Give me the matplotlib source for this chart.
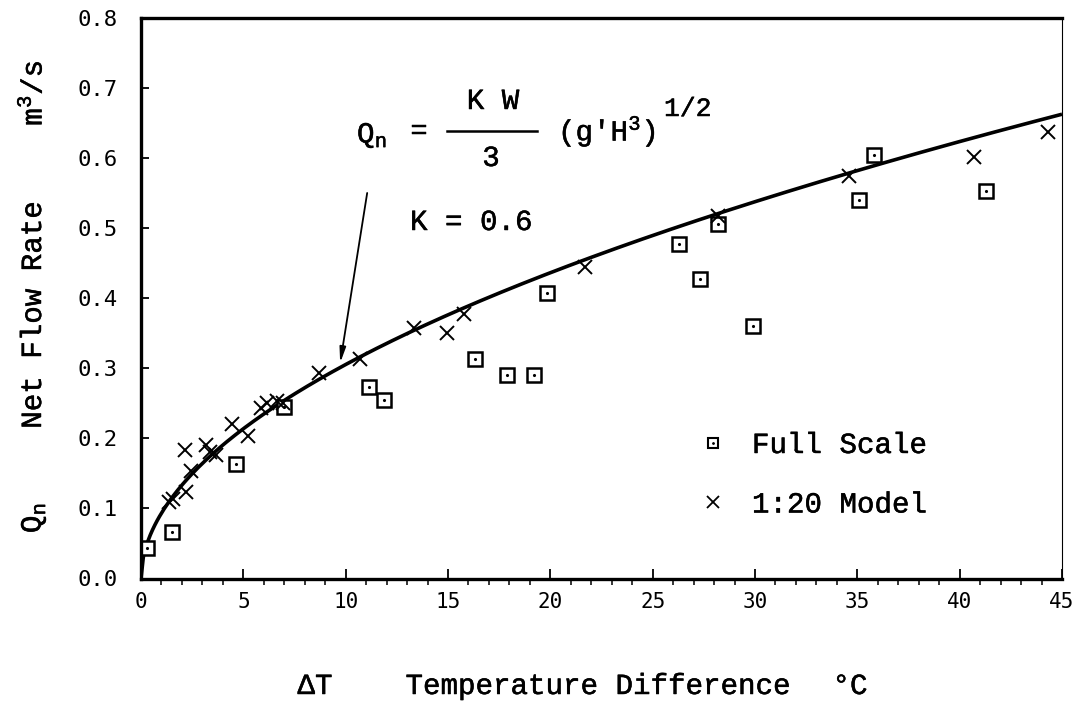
import numpy as np
import matplotlib
matplotlib.use("Agg")
import matplotlib.pyplot as plt
import matplotlib.patheffects as pe
from matplotlib.lines import Line2D

# Full scale measurements (Delta T in C, Qn in m3/s)
full_dt = [0.3, 1.5, 4.65, 7.0, 11.15, 11.85, 16.3, 17.9, 19.2, 19.85,
           26.3, 27.3, 28.2, 29.9, 35.1, 35.8, 41.3]
full_q = [0.043, 0.066, 0.163, 0.245, 0.274, 0.255, 0.313, 0.290, 0.290, 0.407,
          0.477, 0.427, 0.506, 0.360, 0.540, 0.604, 0.553]

# 1:20 model measurements
model_dt = [1.37, 1.56, 2.15, 2.2, 2.45, 3.18, 3.37, 3.67, 4.45, 5.23,
            5.87, 6.16, 6.65, 6.94, 8.7, 10.7, 13.35, 14.96, 15.8, 21.7,
            28.2, 34.6, 40.7, 44.3]
model_q = [0.109, 0.113, 0.184, 0.123, 0.154, 0.191, 0.180, 0.176, 0.220, 0.204,
           0.244, 0.251, 0.253, 0.251, 0.294, 0.314, 0.357, 0.351, 0.378, 0.444,
           0.518, 0.574, 0.601, 0.637]

# theory curve Qn = KW/3 (g'H^3)^1/2 with K = 0.6,
# constants
C_THEORY = 0.0933
P_THEORY = 0.515

mono = "Liberation Mono"
plt.rcParams['font.family'] = [mono, 'DejaVu Sans']
plt.rcParams['mathtext.fontset'] = 'custom'
plt.rcParams['mathtext.rm'] = mono
plt.rcParams['mathtext.it'] = mono

W, H = 1087, 705
fig = plt.figure(figsize=(W/100, H/100), dpi=100)
ax = fig.add_axes([141/W, 1-578.5/H, (1062-141)/W, (578.5-18)/H])

def fx(px):
    return px/W

def fy(py):
    return 1-py/H

# thin stroke so the mono font looks a bit more like typewriter ink
heavy = [pe.withStroke(linewidth=0.35, foreground='black')]

dt = np.linspace(0, 45, 400)
ax.plot(dt, C_THEORY*dt**P_THEORY, color='black', lw=2.6, solid_capstyle='butt')

ax.plot(full_dt, full_q, ls='none', marker='s', ms=9.5, mfc='white', mec='black', mew=1.8)
ax.plot(full_dt, full_q, ls='none', marker='.', ms=2.5, color='black')
ax.plot(model_dt, model_q, ls='none', marker='x', ms=10, mec='black', mew=1.4)

ax.set_xlim(0, 45)
ax.set_ylim(0, 0.8)
ax.set_xticks(np.arange(0, 46, 5))
ax.set_xticks(np.arange(0, 46, 1), minor=True)
ax.set_yticks(np.arange(0, 0.81, 0.1))
ax.set_xticklabels([str(v) for v in range(0, 46, 5)])
ax.set_yticklabels(["%.1f" % v for v in np.arange(0, 0.81, 0.1)])

ax.tick_params(axis='both', direction='in', width=1.3, colors='black')
ax.tick_params(axis='x', which='major', length=7, pad=10)
ax.tick_params(axis='x', which='minor', length=4, width=1.1)
ax.tick_params(axis='y', which='major', length=6, pad=17)
for lab in ax.get_xticklabels():
    lab.set_fontfamily('DejaVu Sans Mono')
    lab.set_fontsize(15)
for lab in ax.get_yticklabels():
    lab.set_fontfamily('DejaVu Sans Mono')
    lab.set_fontsize(16)

for s in ['left', 'bottom', 'top']:
    ax.spines[s].set_linewidth(2.4)
ax.spines['right'].set_linewidth(0.8)

# legend, proxies a bit smaller than the data markers
sq = Line2D([], [], ls='none', marker='s', ms=7, mfc='white', mec='black', mew=1.5)
dot = Line2D([], [], ls='none', marker='.', ms=2, color='black')
cr = Line2D([], [], ls='none', marker='x', ms=8.5, mec='black', mew=1.3)
leg = ax.legend([(sq, dot), cr], ['Full Scale', '1:20 Model'], loc='upper left',
                bbox_to_anchor=(fx(698), fy(431)), bbox_transform=fig.transFigure,
                frameon=False, fontsize=21, handlelength=1.0, handletextpad=0.85,
                labelspacing=1.08, borderpad=0, borderaxespad=0)
for t in leg.get_texts():
    t.set_path_effects(heavy)

# formula
fs = 21
texts = []
texts.append(fig.text(fx(357), fy(135), "Q$_\\mathrm{n}$", fontsize=fs, va='center', ha='left'))
texts.append(fig.text(fx(419), fy(131), "=", fontsize=fs, va='center', ha='center'))
texts.append(fig.text(fx(493), fy(101), "K W", fontsize=fs, va='center', ha='center'))
texts.append(fig.text(fx(491), fy(158), "3", fontsize=fs, va='center', ha='center'))
fig.add_artist(Line2D([fx(447), fx(537)], [fy(131), fy(131)], color='black', lw=1.8))
texts.append(fig.text(fx(558), fy(131), "(g'H$^\\mathrm{3}$)", fontsize=fs, va='center', ha='left'))
texts.append(fig.text(fx(664), fy(109), "1/2", fontsize=19, va='center', ha='left'))
texts.append(fig.text(fx(410), fy(222), "K = 0.6", fontsize=fs, va='center', ha='left'))

ax.annotate('', xy=((340-141)/20.45, (578.5-363)/700.6),
            xytext=((367-141)/20.45, (578.5-193)/700.6),
            arrowprops=dict(arrowstyle='-|>,head_length=0.9,head_width=0.18',
                            lw=1.3, color='black', shrinkA=0, shrinkB=0))

# axis labels made of pieces
texts.append(fig.text(fx(33), fy(315), "Net Flow Rate", fontsize=fs, rotation=90, va='center', ha='center'))
texts.append(fig.text(fx(33), fy(93), "m$^\\mathrm{3}$/s", fontsize=fs, rotation=90, va='center', ha='center'))
texts.append(fig.text(fx(33), fy(518), "Q$_\\mathrm{n}$", fontsize=fs, rotation=90, va='center', ha='center'))

texts.append(fig.text(fx(315), fy(686), "\u0394T", fontsize=fs, va='center', ha='center'))
texts.append(fig.text(fx(598), fy(686), "Temperature Difference", fontsize=fs, va='center', ha='center'))
texts.append(fig.text(fx(850), fy(686), "\u00b0C", fontsize=fs, va='center', ha='center'))
for t in texts:
    t.set_path_effects(heavy)

fig.savefig("out.png", dpi=100)
